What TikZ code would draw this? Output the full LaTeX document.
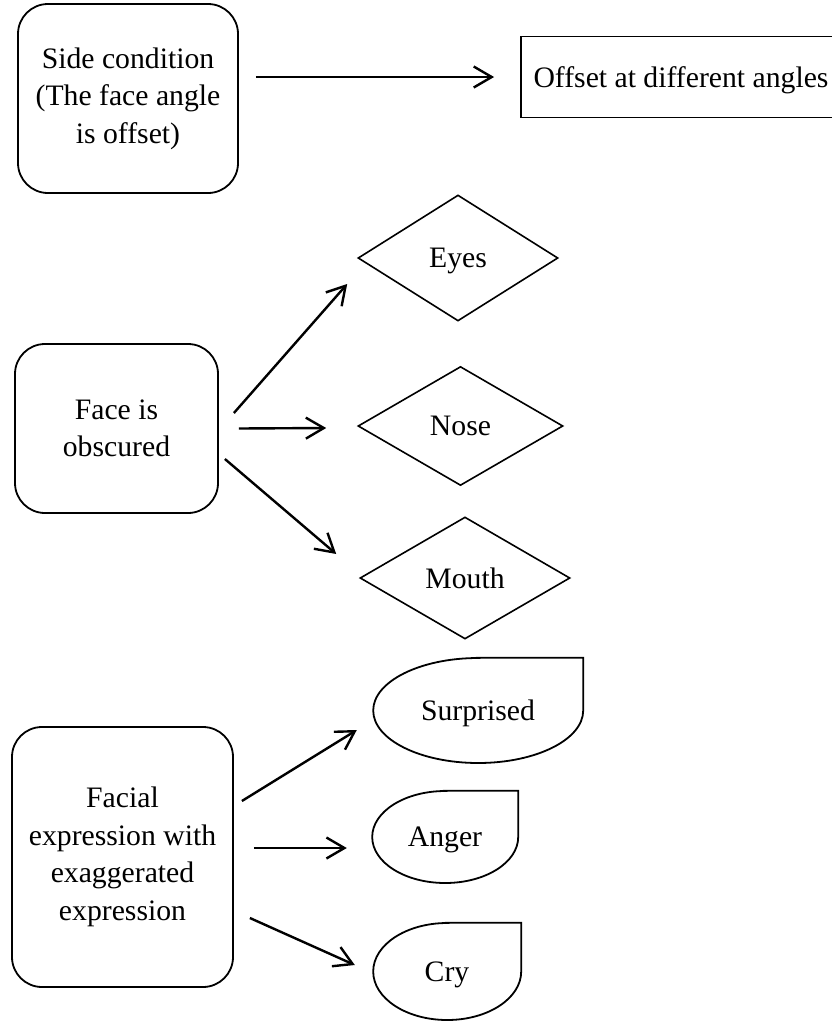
\documentclass[tikz,border=0pt]{standalone}
\usepackage{fontspec}
\setmainfont{Liberation Serif}
\usetikzlibrary{shapes.geometric, arrows.meta}

\tikzset{
  txt/.style={font=\fontsize{29.7}{37.5}\selectfont, align=center, inner sep=0pt},
  oneline/.style={txt, text depth=0pt},
  shapeline/.style={draw=black, line width=1.8pt},
  roundbox/.style={txt, shapeline, rounded corners=30pt},
  plainbox/.style={oneline, shapeline},
  dia/.style={oneline, draw=black, line width=1.6pt, diamond, aspect=1.7},
  tdtext/.style={oneline, draw=none, rectangle},
  arr/.style={draw=black, line width=2.4pt, -{Straight Barb[length=18pt, width=21pt, line width=2.4pt]}},
}

% Teardrop: name, cx, cy, rx, ry, text (square top-right corner)
\newcommand{\teardrop}[6]{%
  \node[tdtext, minimum width={2*#4pt}, minimum height={2*#5pt}] (#1) at (#2,#3) {#6};
  \draw[shapeline] (#1.north) -- (#1.north east) -- (#1.east)
    arc[start angle=0, end angle=-180, x radius=#4pt, y radius=#5pt]
    arc[start angle=180, end angle=90, x radius=#4pt, y radius=#5pt] -- cycle;
}

\begin{document}
\begin{tikzpicture}[x=1pt, y=1pt]
\useasboundingbox (0,0) rectangle (832,-1023);

% Side condition row
\node[roundbox, minimum width=220pt, minimum height=189pt] (side) at (128,-98.5)
  {Side condition\\(The face angle\\is offset)};
\node[plainbox, minimum width=320pt, minimum height=81pt] (offset) at (681,-77)
  {Offset at different angles};
\draw[arr] ([xshift=17pt,yshift=21.5pt]side.east) -- ([xshift=-26pt]offset.west);

% Obscured face row
\node[roundbox, minimum width=203pt, minimum height=169pt] (face) at (116.5,-428.5)
  {Face is\\obscured};
\node[dia, minimum width=200pt, minimum height=126pt] (eyes) at (458,-258) {Eyes};
\node[dia, minimum width=205pt, minimum height=119pt] (nose) at (460.5,-426) {Nose};
\node[dia, minimum width=210pt, minimum height=122pt] (mouth) at (465,-578) {Mouth};
\draw[arr] ([xshift=15pt,yshift=15.5pt]face.east) -- ([xshift=-10pt,yshift=-26pt]eyes.west);
\draw[arr] ([xshift=20pt]face.east) -- ([xshift=-31pt,yshift=-2pt]nose.west);
\draw[arr] ([xshift=6pt,yshift=-30.5pt]face.east) -- ([xshift=-23pt,yshift=24pt]mouth.west);

% Exaggerated expression row
\node[roundbox, minimum width=221pt, minimum height=260pt] (expr) at (122.5,-857)
  {Facial\\expression with\\exaggerated\\expression};
\teardrop{surprised}{478}{-710.5}{105}{52.5}{Surprised}
\teardrop{anger}{445}{-837}{73}{46}{Anger}
\teardrop{cry}{447}{-971.5}{74}{48.5}{Cry}
\draw[arr] ([xshift=8pt,yshift=56pt]expr.east) -- ([xshift=-16pt,yshift=-19.5pt]surprised.west);
\draw[arr] ([xshift=20pt,yshift=9pt]expr.east) -- ([xshift=-25pt,yshift=-11pt]anger.west);
\draw[arr] ([xshift=16pt,yshift=-61pt]expr.east) -- ([xshift=-18pt,yshift=6.5pt]cry.west);
\end{tikzpicture}
\end{document}
